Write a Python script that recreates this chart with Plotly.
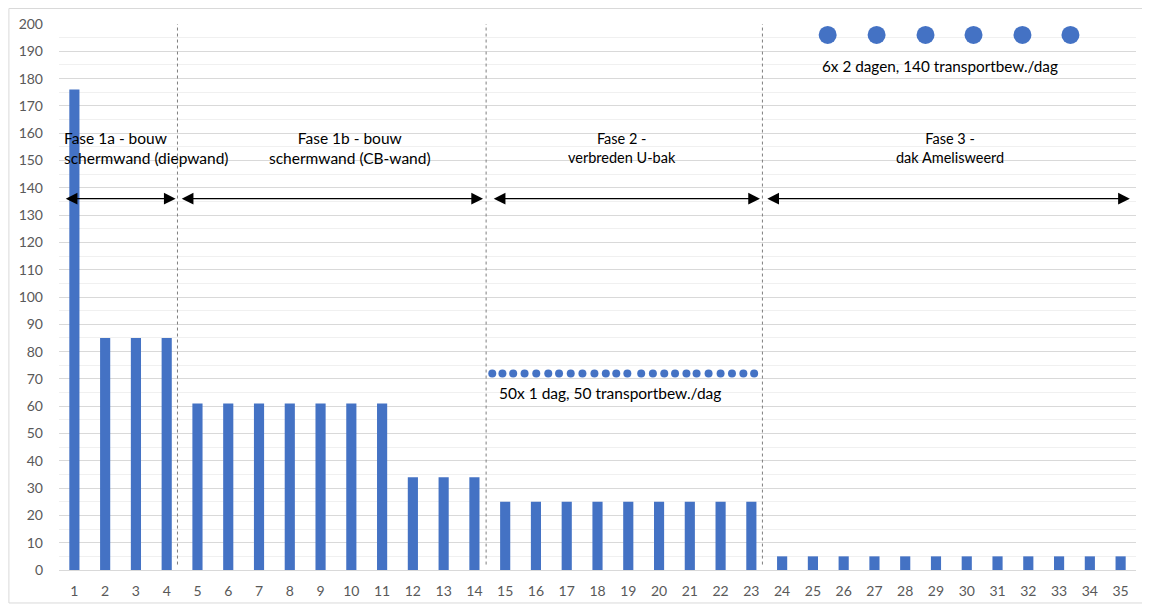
import plotly.graph_objects as go

# ---------------- data ----------------
weeks = list(range(1, 36))
transports = [176, 85, 85, 85,
              61, 61, 61, 61, 61, 61, 61,
              34, 34, 34,
              25, 25, 25, 25, 25, 25, 25, 25, 25,
              5, 5, 5, 5, 5, 5, 5, 5, 5, 5, 5, 5]

# Fase 2: 50x 1 dag (small dots)
small_dot_x = [14.58, 14.91, 15.26, 15.63, 16.01, 16.40, 16.75, 17.13, 17.51, 17.90,
               18.27, 18.61, 18.97, 19.42, 19.80, 20.17, 20.52, 20.89, 21.22, 21.61,
               22.00, 22.37, 22.74, 23.09]
small_dot_y = [72] * len(small_dot_x)

# Fase 3: 6x 2 dagen (large dots)
big_dot_x = [25.48, 27.07, 28.66, 30.22, 31.81, 33.37]
big_dot_y = [196] * len(big_dot_x)

phase_bounds = [4.35, 14.38, 23.36]
phase_arrows = [(0.67, 4.29), (4.44, 14.28), (14.58, 23.28), (23.47, 35.30)]
arrow_y = 136
phase_labels = ["Fase 1a - bouw<br>schermwand (diepwand)",
                "Fase 1b - bouw<br>schermwand (CB-wand)",
                "Fase 2 -<br>verbreden U-bak",
                "Fase 3 -<br>dak Amelisweerd"]
phase_label_x = [0.61, 9.96, 18.8, 29.45]
phase_label_size = [15.5, 15.5, 14.5, 14.5]

BLUE = "#4472C4"
FONT = "Lato"

fig = go.Figure()
fig.add_trace(go.Bar(x=weeks, y=transports, width=0.33, marker=dict(color=BLUE, line=dict(width=0)),
                     showlegend=False, hoverinfo="x+y"))
fig.add_trace(go.Scatter(x=small_dot_x, y=small_dot_y, mode="markers",
                         marker=dict(color=BLUE, size=8), showlegend=False))
fig.add_trace(go.Scatter(x=big_dot_x, y=big_dot_y, mode="markers",
                         marker=dict(color=BLUE, size=18), showlegend=False))

shapes = []
for b in phase_bounds:
    shapes.append(dict(type="line", xref="x", yref="y", x0=b, x1=b, y0=2, y1=200,
                       line=dict(color="#7f7f7f", width=1, dash="dot")))
# outer chart frame
shapes.append(dict(type="rect", xref="paper", yref="paper", x0=-0.0465, x1=1.0065,
                   y0=-0.0604, y1=1.0284, line=dict(color="#d9d9d9", width=1), layer="below"))
annotations = []
for (a0, a1) in phase_arrows:
    annotations.append(dict(x=a1, y=arrow_y, ax=a0, ay=arrow_y, xref="x", yref="y",
                            axref="x", ayref="y", text="", showarrow=True,
                            arrowhead=2, startarrowhead=2, arrowside="end+start",
                            arrowsize=1.8, startarrowsize=1.8, arrowwidth=1.3, arrowcolor="#000000",
                            standoff=0, startstandoff=0))
for i, (lbl, lx, fs) in enumerate(zip(phase_labels, phase_label_x, phase_label_size)):
    annotations.append(dict(x=lx, y=154.5, xref="x", yref="y", text=lbl, showarrow=False,
                            xanchor="left" if i == 0 else "center",
                            align="left" if i == 0 else "center",
                            font=dict(family=FONT, size=fs, color="#000000")))
annotations.append(dict(x=18.41, y=64.8, xref="x", yref="y", text="50x 1 dag, 50 transportbew./dag",
                        showarrow=False, font=dict(family=FONT, size=15.5, color="#000000")))
annotations.append(dict(x=29.13, y=184.6, xref="x", yref="y", text="6x 2 dagen, 140 transportbew./dag",
                        showarrow=False, font=dict(family=FONT, size=15.3, color="#000000")))

# The page body has an 8px default margin, so the figure is sized/offset to compensate.
fig.update_layout(
    width=1142, height=602,
    margin=dict(l=51, r=14, t=16, b=40),
    paper_bgcolor="white", plot_bgcolor="white",
    font=dict(family=FONT, size=14, color="#595959"),
    shapes=shapes, annotations=annotations,
    xaxis=dict(range=[0.5, 35.5], tickmode="array", tickvals=weeks, ticktext=[str(w) for w in weeks],
               showgrid=False, zeroline=False, showline=True, linecolor="#d9d9d9", linewidth=1,
               ticks="", ticklabelstandoff=8, automargin=False,
               tickfont=dict(family=FONT, size=14, color="#595959")),
    yaxis=dict(range=[0, 200], dtick=10, tick0=0, showgrid=True, gridcolor="#d9d9d9", gridwidth=1,
               zeroline=False, showline=False, ticks="", ticklabelstandoff=15, automargin=False,
               minor=dict(dtick=5, tick0=0, showgrid=True, gridcolor="#f0f0f0", gridwidth=1),
               tickfont=dict(family=FONT, size=14, color="#595959")),
)

fig.write_html("out.html")
